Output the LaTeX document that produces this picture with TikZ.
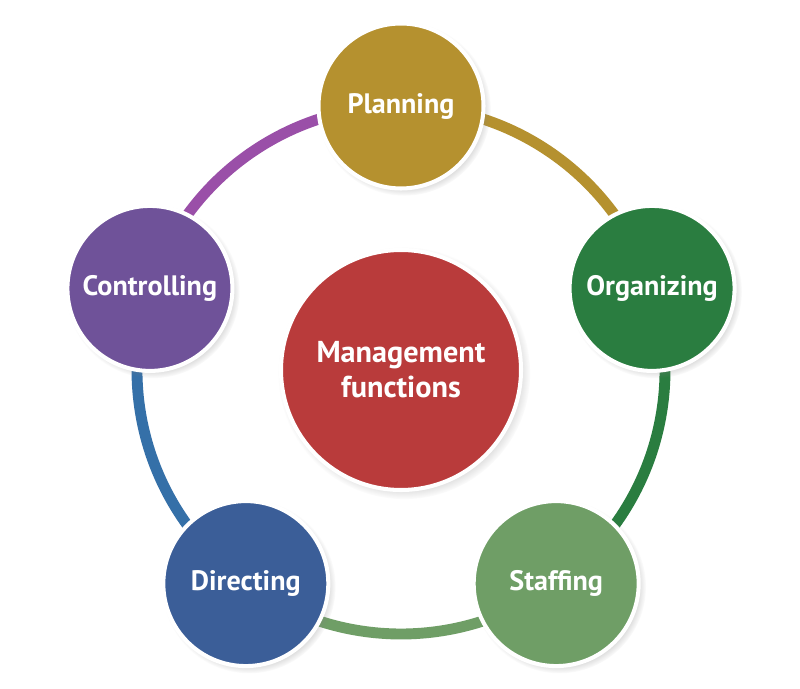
\documentclass[tikz,border=0pt]{standalone}
\usepackage{fontspec}
\setmainfont{PT Sans}
\usetikzlibrary{shadows,backgrounds}

\definecolor{plangold}{HTML}{B5912F}
\definecolor{orggreen}{HTML}{2A7D40}
\definecolor{stafgreen}{HTML}{6F9E66}
\definecolor{dirblue}{HTML}{3B5E98}
\definecolor{ctrlpurple}{HTML}{6F5299}
\definecolor{mgmtred}{HTML}{B93B3B}
\definecolor{ctrlarc}{HTML}{9A4FA8}
\definecolor{dirarc}{HTML}{3570A8}

\tikzset{
  func/.style={circle,draw=white,line width=2.3pt,minimum size=3.3cm,
    text=white,font=\bfseries\fontsize{16}{19}\selectfont,
    circular drop shadow={shadow xshift=0.6mm,shadow yshift=-0.6mm,
      shadow scale=1.05,opacity=0.45}},
  ring/.style={line width=6.2pt}
}

\begin{document}
\begin{tikzpicture}
    \useasboundingbox (-8.02,-6.38) rectangle (7.98,7.40);
    % five functions on the ring
    \node[func,fill=plangold] (plan) at (90:5.28) {Planning};
    \node[func,fill=orggreen] (org) at (18:5.28) {Organizing};
    \node[func,fill=stafgreen] (staf) at (-54:5.28) {Staffing};
    \node[func,fill=dirblue] (dir) at (-126:5.28) {Directing};
    \node[func,fill=ctrlpurple] (ctrl) at (162:5.28) {Controlling};
    \node[func,fill=mgmtred,minimum size=4.8cm,align=center,
      font=\bfseries\fontsize{17.2}{20}\selectfont] (mgmt) at (0,0) {Management\\functions};
    \begin{pgfonlayer}{background}
      \fill[white] (-8.02,-6.38) rectangle (7.98,7.40);
      \draw[ring,plangold] (plan.center) arc[start angle=90,end angle=18,radius=5.28cm];
      \draw[ring,orggreen] (org.center) arc[start angle=18,end angle=-54,radius=5.28cm];
      \draw[ring,stafgreen] (staf.center) arc[start angle=-54,end angle=-126,radius=5.28cm];
      \draw[ring,dirarc] (dir.center) arc[start angle=-126,end angle=-198,radius=5.28cm];
      \draw[ring,ctrlarc] (ctrl.center) arc[start angle=162,end angle=90,radius=5.28cm];
    \end{pgfonlayer}
\end{tikzpicture}
\end{document}
